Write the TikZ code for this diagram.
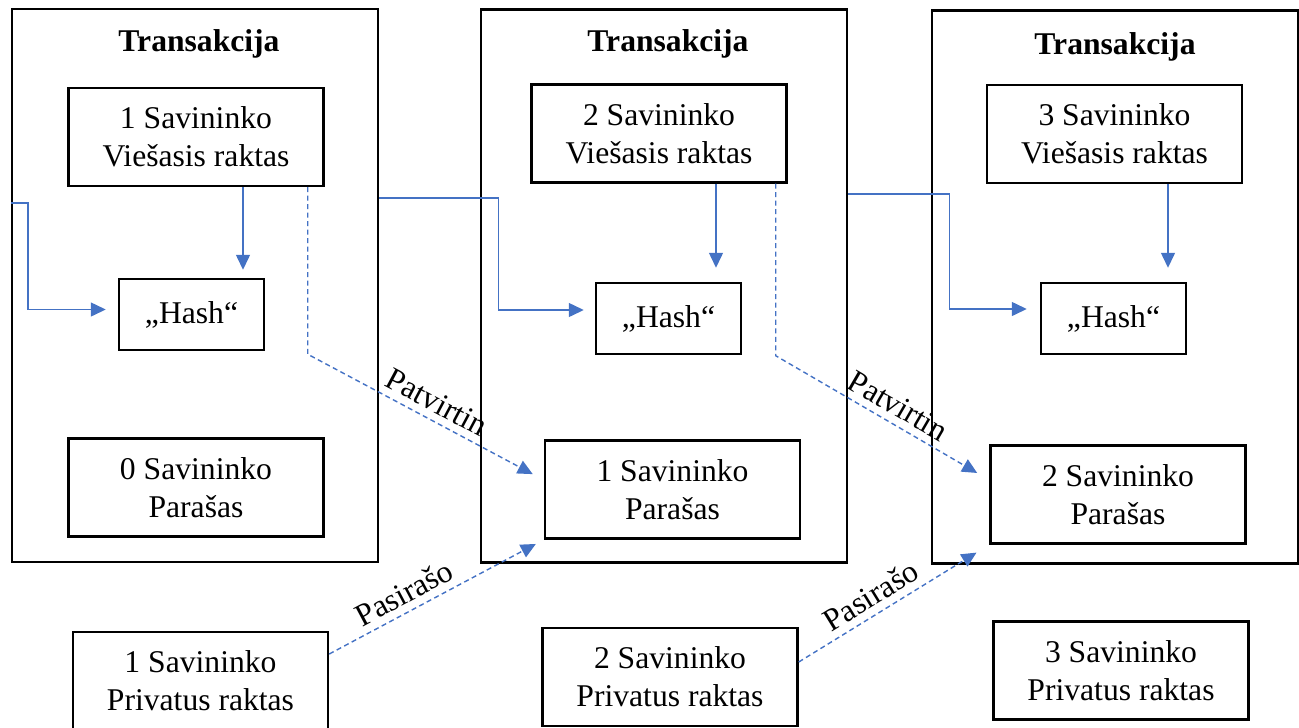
\documentclass[tikz,border=0pt]{standalone}
\usepackage{fontspec}
\setmainfont{Liberation Serif}
\usepackage{tikz}
\usetikzlibrary{shapes,positioning,calc}
\usetikzlibrary{arrows.meta}
\definecolor{melyna}{HTML}{4472C4}
\tikzstyle{blokas} = [rectangle, minimum width=7.32cm, minimum height=11.06cm, draw=black, line width=1.4pt]
\tikzstyle{laukas} = [rectangle, minimum width=5.1cm, minimum height=1.96cm, text centered, align=center, inner sep=0pt, draw=black, line width=1.4pt]
\tikzstyle{hashlaukas} = [rectangle, minimum width=2.9cm, minimum height=1.42cm, inner sep=0pt, draw=black, line width=1.4pt]
\tikzstyle{antraste} = [font=\fontsize{18pt}{21.6pt}\selectfont\bfseries]
\tikzstyle{arrow} = [draw=melyna, line width=0.8pt, -{Triangle[length=0.3cm,width=0.28cm]}]
\tikzstyle{dasharrow} = [arrow, dash pattern=on 0.1cm off 0.07cm]
\tikzstyle{etikete} = [above, sloped, inner sep=4pt]

\begin{document}
\begin{tikzpicture}[font=\fontsize{18pt}{21.6pt}\selectfont]
	\useasboundingbox (0,0) rectangle (25.98,-14.54);
	\node (tx1) at (3.90,-5.71) [blokas] {};
	\node (tx2) at (13.28,-5.72) [blokas] {};
	\node (tx3) at (22.30,-5.74) [blokas] {};
	\node (t1) at (3.98,-0.88) [antraste] {Transakcija};
	\node (t2) at (13.36,-0.88) [antraste] {Transakcija};
	\node (t3) at (22.30,-0.94) [antraste] {Transakcija};
	\node (pk1) at (3.92,-2.74) [laukas] {1 Savininko\\Viešasis raktas};
	\node (pk2) at (13.18,-2.67) [laukas] {2 Savininko\\Viešasis raktas};
	\node (pk3) at (22.29,-2.68) [laukas] {3 Savininko\\Viešasis raktas};
	\node (h1) at (3.83,-6.29) [hashlaukas] {„Hash“};
	\node (h2) at (13.37,-6.37) [hashlaukas] {„Hash“};
	\node (h3) at (22.27,-6.37) [hashlaukas] {„Hash“};
	\node (s1) at (3.92,-9.75) [laukas] {0 Savininko\\Parašas};
	\node (s2) at (13.45,-9.79) [laukas] {1 Savininko\\Parašas};
	\node (s3) at (22.36,-9.89) [laukas] {2 Savininko\\Parašas};
	\node (pr1) at (4.01,-13.62) [laukas] {1 Savininko\\Privatus raktas};
	\node (pr2) at (13.40,-13.54) [laukas] {2 Savininko\\Privatus raktas};
	\node (pr3) at (22.42,-13.41) [laukas] {3 Savininko\\Privatus raktas};
	\coordinate (in1) at (0.22,-4.06);
	\draw[arrow, shorten >=0.16cm] ([xshift=0.94cm]pk1.south) -- ([xshift=0.94cm]pk1.south |- h1.north);
	\draw[arrow, shorten >=0.28cm] ([xshift=1.14cm]pk2.south) -- ([xshift=1.14cm]pk2.south |- h2.north);
	\draw[arrow, shorten >=0.28cm] ([xshift=1.07cm]pk3.south) -- ([xshift=1.07cm]pk3.south |- h3.north);
	\draw[arrow, shorten >=0.24cm] (in1) -- ++(0.34,0) |- ([yshift=0.1cm]h1.west);
	\draw[arrow, shorten >=0.22cm] ([yshift=1.75cm]tx1.east) -- ++(2.38,0) |- ([yshift=0.17cm]h2.west);
	\draw[arrow, shorten >=0.26cm] ([yshift=1.84cm]tx2.east) -- ++(2.02,0) |- ([yshift=0.19cm]h3.west);
	\draw[dasharrow, shorten >=0.25cm] ([xshift=-0.34cm]pk1.south east) -- ++(0,-3.34) -- node[pos=0.51, etikete] {Patvirtin} ([yshift=0.19cm]s2.west);
	\draw[dasharrow, shorten >=0.28cm] ([xshift=-0.24cm]pk2.south east) -- ++(0,-3.44) -- node[pos=0.53, etikete] {Patvirtin} ([yshift=0.29cm]s3.west);
	\draw[dasharrow, shorten >=0.18cm] ([yshift=0.54cm]pr1.east) -- node[pos=0.39, etikete] {Pasirašo} (s2.south west);
	\draw[dasharrow, shorten >=0.3cm] ([yshift=0.30cm]pr2.east) -- node[pos=0.43, etikete] {Pasirašo} (s3.south west);
\end{tikzpicture}
\end{document}
